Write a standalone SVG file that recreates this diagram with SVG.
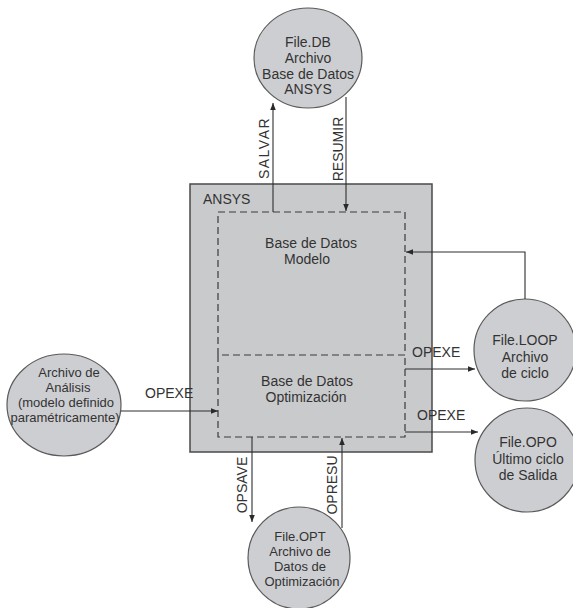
<svg xmlns="http://www.w3.org/2000/svg" width="573" height="608" viewBox="0 0 573 608">
<defs>
<marker id="ah" viewBox="0 0 10 10" refX="10" refY="5" markerWidth="7" markerHeight="7" orient="auto" markerUnits="userSpaceOnUse">
<path d="M0,1 L10,5 L0,9 z" fill="#2a2a2a"/>
</marker>
</defs>
<style>
text{font-family:"Liberation Sans",Arial,sans-serif;font-size:14px;fill:#333;text-anchor:middle}
.node{fill:#cdced1;stroke:#5a5a5a;stroke-width:1.2}
.box{fill:#c9cacc;stroke:#4a4a4a;stroke-width:1.5}
.dash{fill:none;stroke:#3a3a3a;stroke-width:1.2;stroke-dasharray:7 4}
.conn{fill:none;stroke:#2e2e2e;stroke-width:1.1}
.sm{font-size:13px}
.left{text-anchor:start}
</style>
<rect width="573" height="608" fill="#ffffff"/>

<g id="ansys">
<rect class="box" x="190" y="184" width="242" height="268"/>
<text class="left" x="203" y="204">ANSYS</text>
</g>
<g id="bd-modelo">
<rect class="dash" x="218" y="212" width="187" height="143"/>
<text x="311" y="248">Base de Datos</text>
<text x="307" y="264">Modelo</text>
</g>
<g id="bd-optimizacion">
<path class="dash" d="M218,355 V437 H405 V355"/>
<text x="307" y="386">Base de Datos</text>
<text x="306" y="402">Optimización</text>
</g>

<g id="file-db">
<ellipse class="node" cx="308" cy="58" rx="54" ry="50"/>
<text x="308" y="47">File.DB</text>
<text x="308" y="63">Archivo</text>
<text x="308" y="78.5">Base de Datos</text>
<text x="308" y="94">ANSYS</text>
</g>
<g id="file-loop">
<circle class="node" cx="525" cy="350" r="51"/>
<text x="525" y="345">File.LOOP</text>
<text x="525" y="361.5">Archivo</text>
<text x="525" y="378">de ciclo</text>
</g>
<g id="file-opo">
<circle class="node" cx="527" cy="460" r="52"/>
<text x="528" y="447">File.OPO</text>
<text x="528" y="463.5">Último ciclo</text>
<text x="528" y="480">de Salida</text>
</g>
<g id="analisis">
<ellipse class="node" cx="64" cy="405" rx="57" ry="51"/>
<text class="sm" x="69" y="377">Archivo de</text>
<text class="sm" x="68" y="392">Análisis</text>
<text class="sm" x="66" y="407">(modelo definido</text>
<text class="sm" x="65" y="422">paramétricamente)</text>
</g>
<g id="file-opt">
<circle class="node" cx="299" cy="558" r="51"/>
<text class="sm" x="300" y="541">File.OPT</text>
<text class="sm" x="300" y="556">Archivo de</text>
<text class="sm" x="300" y="571">Datos de</text>
<text class="sm" x="302" y="586">Optimización</text>
</g>

<g id="connectors">
<path class="conn" d="M273,212 V103" marker-end="url(#ah)"/>
<path class="conn" d="M346,97 V211" marker-end="url(#ah)"/>
<path class="conn" d="M525,299 V252 H406" marker-end="url(#ah)"/>
<path class="conn" d="M405,369 H475" marker-end="url(#ah)"/>
<path class="conn" d="M405,432 H478" marker-end="url(#ah)"/>
<path class="conn" d="M121,411 H218" marker-end="url(#ah)"/>
<path class="conn" d="M252,437 V522" marker-end="url(#ah)"/>
<path class="conn" d="M342,528 V438" marker-end="url(#ah)"/>
<text transform="translate(269,148) rotate(-90)" letter-spacing="1.5">SALVAR</text>
<text transform="translate(343,149) rotate(-90)">RESUMIR</text>
<text transform="translate(247,485) rotate(-90)">OPSAVE</text>
<text transform="translate(337,485) rotate(-90)">OPRESU</text>
<text class="left" x="412" y="357">OPEXE</text>
<text class="left" x="417" y="420">OPEXE</text>
<text class="left" x="145" y="398">OPEXE</text>
</g>
</svg>
